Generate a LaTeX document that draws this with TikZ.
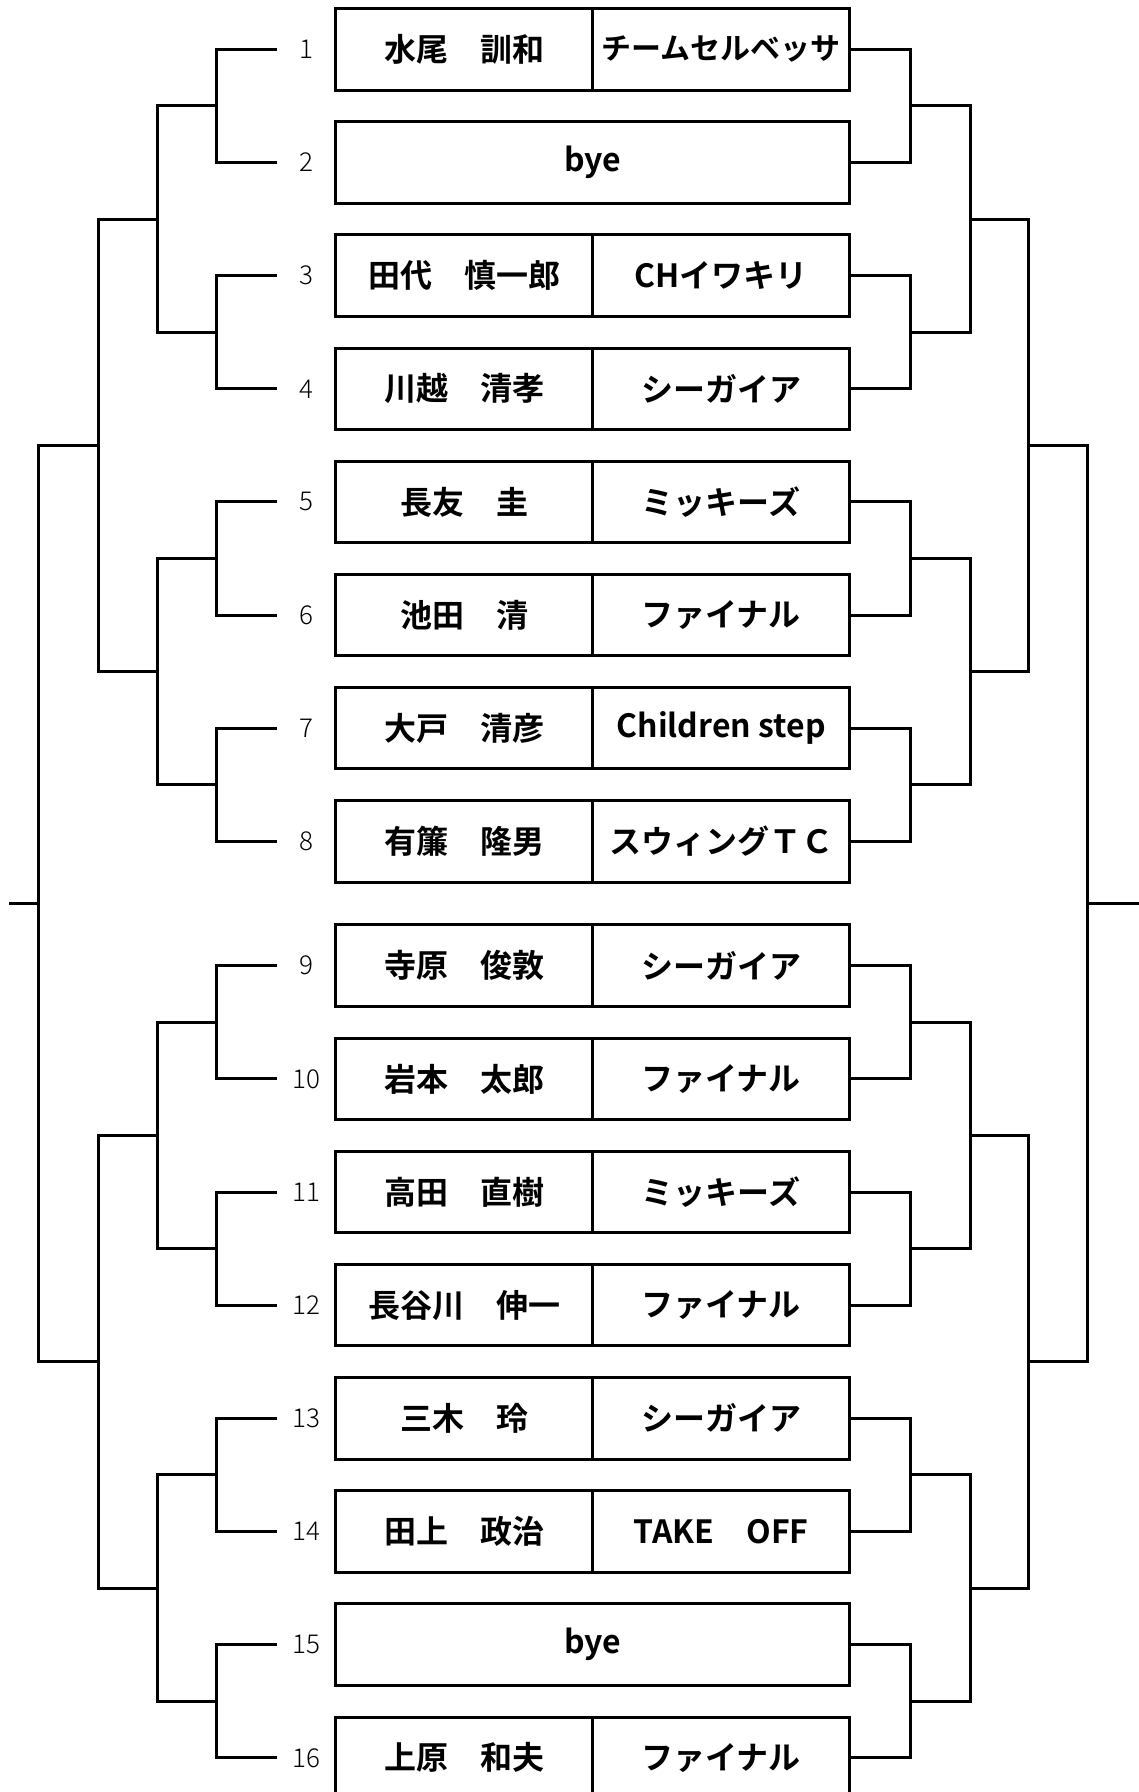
\documentclass[tikz,border=0pt]{standalone}
\usepackage{fontspec}
\usepackage{tikz}
\usetikzlibrary{calc}
\setmainfont{Noto Sans CJK JP}[BoldFont={Noto Sans CJK JP Bold}]
\IfFontExistsTF{Noto Sans CJK JP Light}{\newfontfamily\numfont{Noto Sans CJK JP Light}}{\newfontfamily\numfont{Noto Sans CJK JP}}
\tikzset{
  box/.style={draw, line width=3pt, minimum height=81.5pt, inner sep=0pt, font=\fontsize{32}{32}\selectfont\bfseries},
  namecell/.style={box, minimum width=257pt},
  teamcell/.style={box, minimum width=257pt},
  byecell/.style={box, minimum width=514pt},
  numlabel/.style={inner sep=0pt, font=\fontsize{26}{26}\selectfont\numfont},
  bline/.style={line width=3pt}
}
\newcommand{\player}[4]{ \node[numlabel] (no#1) at (306.5,#2) {#1}; \coordinate (a#1) at (276.7,#2); \node[namecell] (n#1) at (464.2,#2) {#3}; \node[teamcell] (t#1) at (721.1,#2) {#4};}
\newcommand{\playerB}[2]{ \node[numlabel] (no#1) at (306.5,#2) {#1}; \coordinate (a#1) at (276.7,#2); \node[byecell, alias=t#1] (n#1) at (592.6,#2) {bye};}
\newcommand{\brk}[4]{ \coordinate (#4m) at ($(#1)!0.5!(#2)$); \coordinate (#4) at (#4m -| #3); \draw[bline] (#1) -| (#4) |- (#2);}

\begin{document}
\begin{tikzpicture}[x=1pt,y=-1pt]
        \useasboundingbox (0,0) rectangle (1139,1792);
        % columns
        \coordinate (cL1) at (216.7,0);
        \coordinate (cL2) at (157.8,0);
        \coordinate (cL3) at (98.9,0);
        \coordinate (cL4) at (38.3,0);
        \coordinate (endL) at (9,0);
        \coordinate (cR1) at (910.5,0);
        \coordinate (cR2) at (970,0);
        \coordinate (cR3) at (1028.5,0);
        \coordinate (cR4) at (1087.3,0);
        \coordinate (endR) at (1139,0);
        % upper half
        \player{1}{49.3}{水尾　訓和}{\fontsize{30}{30}\selectfont チームセルベッサ}
        \playerB{2}{162.5}
        \player{3}{275.6}{田代　慎一郎}{CHイワキリ}
        \player{4}{388.8}{川越　清孝}{シーガイア}
        \player{5}{501.9}{長友　圭}{ミッキーズ}
        \player{6}{615.1}{池田　清}{ファイナル}
        \player{7}{728.2}{大戸　清彦}{Children step}
        \player{8}{841.3}{有簾　隆男}{スウィングＴＣ}
        % lower half
        \player{9}{965.7}{寺原　俊敦}{シーガイア}
        \player{10}{1078.9}{岩本　太郎}{ファイナル}
        \player{11}{1192.0}{高田　直樹}{ミッキーズ}
        \player{12}{1305.2}{長谷川　伸一}{ファイナル}
        \player{13}{1418.3}{三木　玲}{シーガイア}
        \player{14}{1531.5}{田上　政治}{TAKE　OFF}
        \playerB{15}{1644.6}
        \player{16}{1757.8}{上原　和夫}{ファイナル}
        % left side, round1
        \brk{a1}{a2}{cL1}{l12}
        \brk{a3}{a4}{cL1}{l34}
        \brk{a5}{a6}{cL1}{l56}
        \brk{a7}{a8}{cL1}{l78}
        \brk{a9}{a10}{cL1}{l910}
        \brk{a11}{a12}{cL1}{l1112}
        \brk{a13}{a14}{cL1}{l1314}
        \brk{a15}{a16}{cL1}{l1516}
        % left side, round2
        \brk{l12}{l34}{cL2}{lA}
        \brk{l56}{l78}{cL2}{lB}
        \brk{l910}{l1112}{cL2}{lC}
        \brk{l1314}{l1516}{cL2}{lD}
        % left side, round3 and final
        \brk{lA}{lB}{cL3}{lAB}
        \brk{lC}{lD}{cL3}{lCD}
        \brk{lAB}{lCD}{cL4}{lF}
        \draw[bline] (lF) -- (lF -| endL);
        % right side, round1
        \brk{t1}{t2}{cR1}{r12}
        \brk{t3}{t4}{cR1}{r34}
        \brk{t5}{t6}{cR1}{r56}
        \brk{t7}{t8}{cR1}{r78}
        \brk{t9}{t10}{cR1}{r910}
        \brk{t11}{t12}{cR1}{r1112}
        \brk{t13}{t14}{cR1}{r1314}
        \brk{t15}{t16}{cR1}{r1516}
        % right side, round2
        \brk{r12}{r34}{cR2}{rA}
        \brk{r56}{r78}{cR2}{rB}
        \brk{r910}{r1112}{cR2}{rC}
        \brk{r1314}{r1516}{cR2}{rD}
        % right side, round3 and final
        \brk{rA}{rB}{cR3}{rAB}
        \brk{rC}{rD}{cR3}{rCD}
        \brk{rAB}{rCD}{cR4}{rF}
        \draw[bline] (rF) -- (rF -| endR);
\end{tikzpicture}
\end{document}
